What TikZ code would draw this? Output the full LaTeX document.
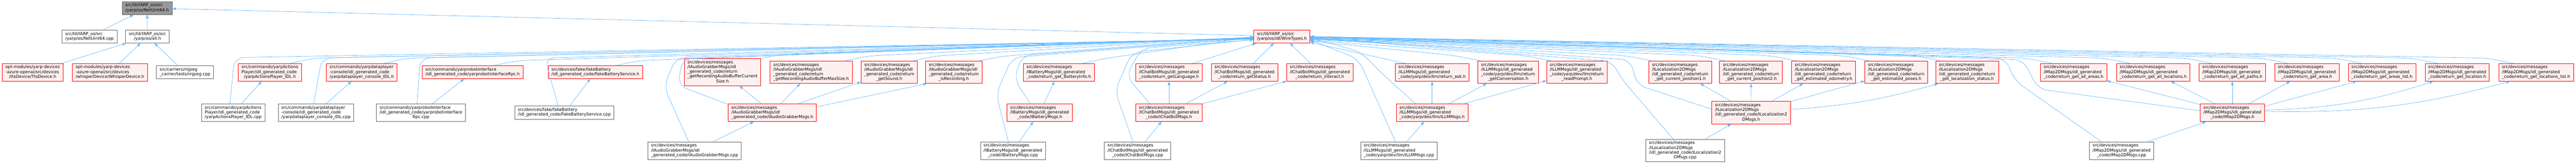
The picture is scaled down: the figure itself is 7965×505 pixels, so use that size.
\documentclass[tikz,border=0pt]{standalone}
\usepackage{fontspec}
\setmainfont{DejaVu Sans}
\usetikzlibrary{arrows.meta}
\definecolor{edgeblue}{HTML}{63B8FF}
\definecolor{redfill}{HTML}{FFF0F0}
\definecolor{mainfill}{HTML}{999999}
\definecolor{boxline}{HTML}{666666}
\newcommand{\flab}[2]{\begin{tabular}{@{}l@{}}#1\\\multicolumn{1}{@{}c@{}}{#2}\end{tabular}}
\tikzset{
  box/.style={rectangle, draw, line width=1.2bp, inner xsep=10bp, inner ysep=5.5bp,
    font=\fontsize{12.9bp}{14.6bp}\selectfont},
  mainfile/.style={box, draw=boxline, fill=mainfill},
  plainfile/.style={box, draw=boxline, fill=white},
  redfile/.style={box, draw=red, fill=redfill},
  incl/.style={draw=edgeblue, line width=1.1bp, -{Triangle[length=11bp,width=8bp]}},
  bent/.style={incl, rounded corners=30bp}
}
\begin{document}
\begin{tikzpicture}[x=1bp,y=1bp]
\useasboundingbox (0,0) rectangle (7965,-505);
\node[mainfile] (n1) at (455,-25) {\flab{src/libYARP\_os/src}{/yarp/os/NetUint64.h}};
\node[plainfile] (n2) at (277,-113) {\flab{src/libYARP\_os/src}{/yarp/os/NetUint64.cpp}};
\node[plainfile] (n3) at (456,-113) {\flab{src/libYARP\_os/src}{/yarp/os/all.h}};
\node[redfile] (wt) at (3963.5,-113) {\flab{src/libYARP\_os/src}{/yarp/os/idl/WireTypes.h}};
\node[redfile] (n4) at (101,-223.5) {\flab{opt-modules/yarp-devices\\-azure-openai/src/devices}{/ttsDevice/TtsDevice.h}};
\node[redfile] (n5) at (340,-223.5) {\flab{opt-modules/yarp-devices\\-azure-openai/src/devices}{/whisperDevice/WhisperDevice.h}};
\node[plainfile] (n6) at (572,-223) {\flab{src/carriers/mjpeg}{\_carrier/tests/mjpeg.cpp}};
\node[plainfile] (n7) at (721,-348) {\flab{src/commands/yarpActions\\Player/idl\_generated\_code}{/yarpActionsPlayer\_IDL.cpp}};
\node[redfile] (n8) at (834.5,-223.5) {\flab{src/commands/yarpActions\\Player/idl\_generated\_code}{/yarpActionsPlayer\_IDL.h}};
\node[redfile] (n9) at (1118.5,-223.5) {\flab{src/commands/yarpdataplayer\\-console/idl\_generated\_code}{/yarpdataplayer\_console\_IDL.h}};
\node[plainfile] (n10) at (977,-348) {\flab{src/commands/yarpdataplayer\\-console/idl\_generated\_code}{/yarpdataplayer\_console\_IDL.cpp}};
\node[plainfile] (n11) at (1301.5,-348) {\flab{src/commands/yarprobotinterface\\/idl\_generated\_code/yarprobotinterface}{Rpc.cpp}};
\node[redfile] (n12) at (1461.5,-223) {\flab{src/commands/yarprobotinterface}{/idl\_generated\_code/yarprobotinterfaceRpc.h}};
\node[redfile] (n13) at (1841,-223) {\flab{src/devices/fake/fakeBattery}{/idl\_generated\_code/FakeBatteryService.h}};
\node[plainfile] (n14) at (1745,-348) {\flab{src/devices/fake/fakeBattery}{/idl\_generated\_code/FakeBatteryService.cpp}};
\node[redfile] (n15) at (2234,-223) {\flab{src/devices/messages\\/IAudioGrabberMsgs/idl\\\_generated\_code/return\\\_getRecordingAudioBufferCurrent}{Size.h}};
\node[plainfile] (n16) at (2147.5,-465.5) {\flab{src/devices/messages\\/IAudioGrabberMsgs/idl}{\_generated\_code/IAudioGrabberMsgs.cpp}};
\node[redfile] (n17) at (2388,-348) {\flab{src/devices/messages\\/IAudioGrabberMsgs/idl}{\_generated\_code/IAudioGrabberMsgs.h}};
\node[redfile] (n18) at (2508,-223) {\flab{src/devices/messages\\/IAudioGrabberMsgs/idl\\\_generated\_code/return}{\_getRecordingAudioBufferMaxSize.h}};
\node[redfile] (n19) at (2749.5,-223) {\flab{src/devices/messages\\/IAudioGrabberMsgs/idl\\\_generated\_code/return}{\_getSound.h}};
\node[redfile] (n20) at (2949,-223) {\flab{src/devices/messages\\/IAudioGrabberMsgs/idl\\\_generated\_code/return}{\_isRecording.h}};
\node[redfile] (n21) at (3273.5,-223.5) {\flab{src/devices/messages\\/IBatteryMsgs/idl\_generated}{\_code/return\_get\_BatteryInfo.h}};
\node[redfile] (n22) at (3214.5,-348) {\flab{src/devices/messages\\/IBatteryMsgs/idl\_generated}{\_code/IBatteryMsgs.h}};
\node[plainfile] (n23) at (3132,-465.5) {\flab{src/devices/messages\\/IBatteryMsgs/idl\_generated}{\_code/IBatteryMsgs.cpp}};
\node[redfile] (n24) at (3614.5,-223.5) {\flab{src/devices/messages\\/IChatBotMsgs/idl\_generated}{\_code/return\_getLanguage.h}};
\node[redfile] (n25) at (3614.5,-348) {\flab{src/devices/messages\\/IChatBotMsgs/idl\_generated}{\_code/IChatBotMsgs.h}};
\node[plainfile] (n26) at (3517.5,-465.5) {\flab{src/devices/messages\\/IChatBotMsgs/idl\_generated}{\_code/IChatBotMsgs.cpp}};
\node[redfile] (n27) at (3848,-223.5) {\flab{src/devices/messages\\/IChatBotMsgs/idl\_generated}{\_code/return\_getStatus.h}};
\node[redfile] (n28) at (4081,-223.5) {\flab{src/devices/messages\\/IChatBotMsgs/idl\_generated}{\_code/return\_interact.h}};
\node[plainfile] (n29) at (4325.5,-465.5) {\flab{src/devices/messages\\/ILLMMsgs/idl\_generated}{\_code/yarp/dev/llm/ILLMMsgs.cpp}};
\node[redfile] (n30) at (4428,-223.5) {\flab{src/devices/messages\\/ILLMMsgs/idl\_generated}{\_code/yarp/dev/llm/return\_ask.h}};
\node[redfile] (n31) at (4428,-348) {\flab{src/devices/messages\\/ILLMMsgs/idl\_generated}{\_code/yarp/dev/llm/ILLMMsgs.h}};
\node[redfile] (n32) at (4663,-223) {\flab{src/devices/messages\\/ILLMMsgs/idl\_generated\\\_code/yarp/dev/llm/return}{\_getConversation.h}};
\node[redfile] (n33) at (4875.5,-223) {\flab{src/devices/messages\\/ILLMMsgs/idl\_generated\\\_code/yarp/dev/llm/return}{\_readPrompt.h}};
\node[redfile] (n34) at (5195,-223) {\flab{src/devices/messages\\/ILocalization2DMsgs\\/idl\_generated\_code/return}{\_get\_current\_position1.h}};
\node[redfile] (n35) at (5414,-223) {\flab{src/devices/messages\\/ILocalization2DMsgs\\/idl\_generated\_code/return}{\_get\_current\_position2.h}};
\node[redfile] (n36) at (5638.5,-223) {\flab{src/devices/messages\\/ILocalization2DMsgs\\/idl\_generated\_code/return}{\_get\_estimated\_odometry.h}};
\node[redfile] (n37) at (5863,-223) {\flab{src/devices/messages\\/ILocalization2DMsgs\\/idl\_generated\_code/return}{\_get\_estimated\_poses.h}};
\node[redfile] (n38) at (6082,-223) {\flab{src/devices/messages\\/ILocalization2DMsgs\\/idl\_generated\_code/return}{\_get\_localization\_status.h}};
\node[redfile] (n39) at (5414.5,-348) {\flab{src/devices/messages\\/ILocalization2DMsgs\\/idl\_generated\_code/ILocalization2}{DMsgs.h}};
\node[plainfile] (n40) at (5210.5,-465) {\flab{src/devices/messages\\/ILocalization2DMsgs\\/idl\_generated\_code/ILocalization2}{DMsgs.cpp}};
\node[redfile] (n41) at (6411.5,-223.5) {\flab{src/devices/messages\\/IMap2DMsgs/idl\_generated}{\_code/return\_get\_all\_areas.h}};
\node[plainfile] (n42) at (6560,-465.5) {\flab{src/devices/messages\\/IMap2DMsgs/idl\_generated}{\_code/IMap2DMsgs.cpp}};
\node[redfile] (n43) at (6657.5,-223.5) {\flab{src/devices/messages\\/IMap2DMsgs/idl\_generated}{\_code/return\_get\_all\_locations.h}};
\node[redfile] (n44) at (6902.5,-223.5) {\flab{src/devices/messages\\/IMap2DMsgs/idl\_generated}{\_code/return\_get\_all\_paths.h}};
\node[redfile] (n45) at (7132.5,-223.5) {\flab{src/devices/messages\\/IMap2DMsgs/idl\_generated}{\_code/return\_get\_area.h}};
\node[redfile] (n46) at (6902.5,-348) {\flab{src/devices/messages\\/IMap2DMsgs/idl\_generated}{\_code/IMap2DMsgs.h}};
\node[redfile] (n47) at (7365,-223.5) {\flab{src/devices/messages\\/IMap2DMsgs/idl\_generated}{\_code/return\_get\_areas\_list.h}};
\node[redfile] (n48) at (7597.5,-223.5) {\flab{src/devices/messages\\/IMap2DMsgs/idl\_generated}{\_code/return\_get\_location.h}};
\node[redfile] (n49) at (7841.5,-223.5) {\flab{src/devices/messages\\/IMap2DMsgs/idl\_generated}{\_code/return\_get\_locations\_list.h}};
% includes of NetUint64.h and all.h
\draw[incl] (n2) -- (n1);
\draw[incl] (n3) -- (n1);
\draw[incl] ([yshift=3]wt.west) -- (n1);
\draw[incl] (n4) -- (n3);
\draw[incl] (n5) -- (n3);
\draw[incl] (n6) -- (n3);
% includes of WireTypes.h, left side
\draw[bent] ([xshift=-10]n7.north) -- ++(14,142) -- ([yshift=-8]wt.west);
\draw[bent] ([xshift=65]n8.north) -- ++(70,16) -- ([yshift=-7]wt.west);
\draw[bent] ([xshift=-7]n10.north) -- ++(25,141) -- ([yshift=-7]wt.west);
\draw[bent] ([xshift=71]n9.north) -- ++(70,16) -- ([yshift=-6]wt.west);
\draw[bent] ([xshift=-12]n11.north) -- ++(10,141) -- ([yshift=-6]wt.west);
\draw[bent] ([xshift=66]n12.north) -- ++(70,15) -- ([yshift=-5]wt.west);
\draw[bent] ([xshift=-19]n14.north) -- ++(-42,148) -- ([yshift=-5]wt.west);
\draw[bent] ([xshift=64]n13.north) -- ++(70,15) -- ([yshift=-4]wt.west);
\draw[bent] ([xshift=-18]n16.north) -- ++(-77,170) -- ++(38,90) -- ([yshift=-4]wt.west);
\draw[bent] ([yshift=-2]n17.north west) -- ++(-155,58) -- ++(15,83) -- ([yshift=-3]wt.west);
\draw[bent] (n15.north east) -- ++(60,12) -- ([yshift=-3]wt.west);
\draw[bent] ([xshift=106]n18.north) -- ++(70,15) -- ([yshift=-2]wt.west);
\draw[bent] ([xshift=75]n19.north) -- ++(70,15) -- ([yshift=-2]wt.west);
\draw[bent] ([xshift=81]n20.north) -- ++(70,14) -- ([yshift=-1]wt.west);
\draw[bent] ([xshift=-14]n23.north) -- ++(-38,148) -- ++(50,112) -- ([yshift=-5]wt.west);
\draw[bent] ([xshift=-29]n22.north) -- ++(-50,76) -- ++(25,73) -- ([yshift=-4]wt.west);
\draw[bent] ([xshift=75]n21.north) -- ++(70,15) -- ([yshift=-1]wt.west);
\draw[bent] ([xshift=-15]n26.north) -- ++(-55,158) -- ++(53,118) -- ([yshift=-9]wt.west);
\draw[bent] ([xshift=-60]n25.north) -- ++(-73,86) -- ++(48,85) -- ([yshift=-10]wt.west);
\draw[incl] ([xshift=74]n24.north) -- ([xshift=-80]wt.south);
\draw[incl] ([xshift=28]n27.north) -- ([xshift=-25]wt.south);
\draw[incl] ([xshift=-29]n28.north) -- ([xshift=25]wt.south);
% includes of WireTypes.h, right side
\draw[bent] ([xshift=-11]n29.north) -- ++(-114,255) -- ([yshift=-10]wt.east);
\draw[bent] ([xshift=-52]n31.north) -- ++(-101,91) -- ++(-70,70) -- ([yshift=-5]wt.east);
\draw[incl] ([xshift=-85]n30.north) -- ([yshift=-18]wt.east);
\draw[bent] ([xshift=-85]n32.north) -- ++(-80,16) -- ([yshift=-14]wt.east);
\draw[bent] ([xshift=-81]n33.north) -- ++(-80,16) -- ([yshift=-12]wt.east);
\draw[bent] ([xshift=-90]n34.north) -- ++(-80,16) -- ([yshift=-9]wt.east);
\draw[bent] ([xshift=-82]n35.north) -- ++(-80,16) -- ([yshift=-8]wt.east);
\draw[bent] ([xshift=-86]n36.north) -- ++(-80,16) -- ([yshift=-7]wt.east);
\draw[bent] ([xshift=-86]n37.north) -- ++(-80,16) -- ([yshift=-6]wt.east);
\draw[bent] ([xshift=-83]n38.north) -- ++(-80,16) -- ([yshift=-5]wt.east);
\draw[bent] ([yshift=11]n39.west) -- ++(-231,75) -- ++(-20,77) -- ([yshift=-4]wt.east);
\draw[bent] ([xshift=-37]n40.north) -- ++(-163,190) -- ++(-25,50) -- ([yshift=-4]wt.east);
\draw[bent] ([xshift=-68]n41.north) -- ++(-80,16) -- ([yshift=-3]wt.east);
\draw[bent] ([xshift=-63]n42.north) -- ++(-267,188) -- ++(-30,70) -- ([yshift=-3]wt.east);
\draw[bent] ([yshift=6]n46.west) -- ++(-501,67) -- ++(-45,90) -- ([yshift=-2]wt.east);
\draw[bent] ([xshift=-73]n43.north) -- ++(-80,16) -- ([yshift=-2]wt.east);
\draw[bent] ([xshift=-64]n44.north) -- ++(-80,16) -- ([yshift=-1]wt.east);
\draw[bent] ([xshift=-61]n45.north) -- ++(-80,16) -- ([yshift=-1]wt.east);
\draw[bent] ([xshift=-65]n47.north) -- ++(-80,16) -- (wt.east);
\draw[bent] ([xshift=-62]n48.north) -- ++(-80,16) -- (wt.east);
\draw[bent] ([xshift=-72]n49.north) -- ++(-80,16) -- (wt.east);
% includes inside each group
\draw[incl] (n7) -- (n8);
\draw[incl] (n10) -- (n9);
\draw[incl] (n11) -- (n12);
\draw[incl] (n14) -- (n13);
\draw[incl] (n16) -- (n17);
\draw[incl] (n17) -- (n15);
\draw[incl] (n17) -- (n18);
\draw[incl] (n17) -- (n19);
\draw[incl] ([yshift=18]n17.east) -- ([xshift=4]n20.south west);
\draw[incl] (n23) -- (n22);
\draw[incl] (n22) -- (n21);
\draw[incl] (n26) -- (n25);
\draw[incl] (n25) -- (n24);
\draw[incl] (n25) -- (n27);
\draw[incl] (n25) -- (n28);
\draw[incl] (n29) -- (n31);
\draw[incl] (n31) -- (n30);
\draw[incl] (n31) -- (n32);
\draw[incl] (n31) -- (n33);
\draw[incl] (n40) -- (n39);
\draw[incl] (n39) -- (n34);
\draw[incl] (n39) -- (n35);
\draw[incl] (n39) -- (n36);
\draw[incl] (n39) -- (n37);
\draw[incl] ([yshift=10]n39.east) to[bend right=6] ([xshift=8]n38.south west);
\draw[incl] (n42) -- (n46);
\draw[incl] (n46) -- (n41);
\draw[incl] (n46) -- (n43);
\draw[incl] (n46) -- (n44);
\draw[incl] (n46) -- (n45);
\draw[incl] ([yshift=20]n46.east) -- ([xshift=26]n47.south west);
\draw[incl] ([yshift=8]n46.east) to[bend right=8] ([xshift=26]n48.south west);
\draw[incl] ([yshift=4]n46.east) to[bend right=8] ([xshift=35]n49.south west);
\end{tikzpicture}
\end{document}
